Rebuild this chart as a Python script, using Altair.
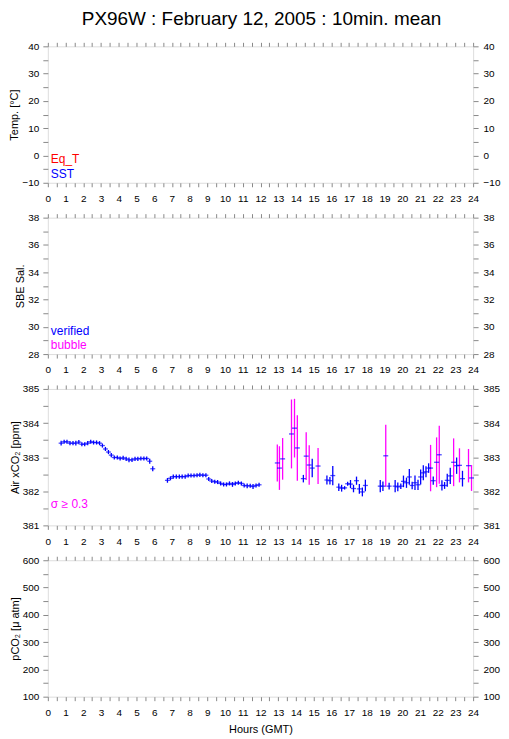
import altair as alt
import pandas as pd

FONT = "Liberation Sans"
TITLE = "PX96W : February 12, 2005 : 10min. mean"
W, H = 427, 137
BLUE, MAGENTA, RED = "#0000ff", "#ff00ff", "#ff0000"

x_ticks = [h * 0.5 for h in range(49)]

# ---- Air xCO2 10-min means (hour GMT, value ppm, sigma ppm) ----
hours = [
    0.75, 0.92, 1.08, 1.25, 1.42, 1.58, 1.75, 1.92, 2.08, 2.25, 2.42, 2.58,
    2.75, 2.92, 3.08, 3.25, 3.42, 3.58, 3.75, 3.92, 4.08, 4.25, 4.42, 4.58,
    4.75, 4.92, 5.08, 5.25, 5.42, 5.58, 5.75, 5.92,
    6.75, 6.92, 7.08, 7.25, 7.42, 7.58, 7.75, 7.92, 8.08, 8.25, 8.42, 8.58,
    8.75, 8.92, 9.08, 9.25, 9.42, 9.58, 9.75, 9.92, 10.08, 10.25, 10.42, 10.58,
    10.75, 10.92, 11.08, 11.25, 11.42, 11.58, 11.75, 11.92,
    12.95, 13.07, 13.25, 13.75, 13.92, 14.08, 14.42, 14.58, 14.75, 14.92,
    15.25, 15.75, 15.92, 16.08, 16.42, 16.58, 16.75, 16.92, 17.08, 17.25,
    17.42, 17.58, 17.75, 17.92,
    18.76, 18.91, 19.07, 19.26, 19.60, 19.75, 19.92, 20.07, 20.24, 20.40,
    20.56, 20.72, 20.89, 21.04, 21.19, 21.34, 21.49, 21.60, 21.75, 21.94,
    22.09, 22.24, 22.39, 22.54, 22.71, 22.90, 23.07, 23.23, 23.40, 23.74, 23.91,
]
xco2 = [
    383.41, 383.45, 383.45, 383.41, 383.41, 383.41, 383.44, 383.38, 383.38, 383.41,
    383.45, 383.43, 383.43, 383.41, 383.34, 383.24, 383.15, 383.06, 382.99, 382.99,
    382.96, 382.98, 382.95, 382.92, 382.92, 382.95, 382.95, 382.96, 382.96, 382.96,
    382.88, 382.66,
    382.32, 382.38, 382.43, 382.43, 382.43, 382.43, 382.43, 382.46, 382.46, 382.46,
    382.47, 382.48, 382.47, 382.47, 382.36, 382.30, 382.28, 382.27, 382.23, 382.20,
    382.20, 382.23, 382.20, 382.23, 382.25, 382.23, 382.17, 382.16, 382.16, 382.14,
    382.17, 382.19,
    382.83, 382.68, 382.95, 383.68, 383.85, 383.27, 382.37, 383.03, 382.77, 382.68,
    382.74, 382.33, 382.31, 382.46, 382.12, 382.09, 382.10, 382.22, 382.21, 382.08,
    382.31, 382.07, 381.98, 382.17,
    382.15, 382.15, 383.04, 382.15, 382.15, 382.13, 382.15, 382.29, 382.25, 382.42,
    382.17, 382.25, 382.19, 382.42, 382.54, 382.57, 382.68, 382.68, 382.31, 382.85,
    383.07, 382.17, 382.17, 382.32, 382.45, 382.85, 382.75, 382.76, 382.37, 382.75,
    382.39,
]
sigma = [
    0.07, 0.06, 0.06, 0.06, 0.06, 0.07, 0.06, 0.06, 0.06, 0.06, 0.06, 0.06,
    0.06, 0.06, 0.06, 0.06, 0.06, 0.06, 0.06, 0.06, 0.06, 0.06, 0.06, 0.07,
    0.06, 0.06, 0.06, 0.06, 0.06, 0.06, 0.07, 0.07,
    0.07, 0.06, 0.06, 0.06, 0.06, 0.06, 0.06, 0.06, 0.06, 0.06, 0.06, 0.06,
    0.06, 0.06, 0.06, 0.06, 0.06, 0.06, 0.06, 0.06, 0.06, 0.06, 0.07, 0.06,
    0.06, 0.06, 0.06, 0.07, 0.06, 0.07, 0.06, 0.06,
    0.54, 0.64, 0.61, 1.01, 0.86, 0.96, 0.11, 0.70, 0.58, 0.27,
    0.53, 0.13, 0.11, 0.28, 0.11, 0.10, 0.05, 0.06, 0.12, 0.11,
    0.12, 0.14, 0.13, 0.17,
    0.18, 0.14, 0.91, 0.10, 0.18, 0.13, 0.08, 0.17, 0.15, 0.23,
    0.11, 0.21, 0.15, 0.22, 0.22, 0.16, 0.14, 0.68, 0.12, 0.73,
    0.85, 0.15, 0.10, 0.19, 0.24, 0.70, 0.24, 0.50, 0.23, 0.49,
    0.38,
]

df = pd.DataFrame({"hour": hours, "xco2": xco2, "sigma": sigma})
df["lo"] = df["xco2"] - df["sigma"]
df["hi"] = df["xco2"] + df["sigma"]
df["flag"] = ["high" if s >= 0.3 else "low" for s in df["sigma"]]

xs = alt.Scale(domain=[0, 24], nice=False, zero=False)
XLAB = "datum.value % 1 == 0 ? format(datum.value, 'd') : ''"


def frame(ydomain, yticks, ymod, ytitle, xtitle=None):
    ys = alt.Scale(domain=ydomain, nice=False, zero=False)
    ylab = f"datum.value % {ymod} == 0 ? format(datum.value, 'd') : ''"
    dummy = pd.DataFrame({"hour": [0, 24], "v": ydomain})
    common = dict(grid=False, domain=False)
    left = alt.Chart(dummy).mark_point(opacity=0).encode(
        x=alt.X("hour:Q", scale=xs, title=xtitle,
                axis=alt.Axis(orient="bottom", values=x_ticks, labelExpr=XLAB, tickSize=4,
                              labelPadding=7, labelFlush=False, labelOverlap=False,
                              titlePadding=6, titleFontWeight="normal", **common)),
        y=alt.Y("v:Q", scale=ys, title=ytitle,
                axis=alt.Axis(orient="left", values=yticks, labelExpr=ylab, tickSize=5,
                              labelPadding=4, labelFlush=False, labelOverlap=False,
                              titlePadding=2, titleFontWeight="normal", **common)),
    )
    right = alt.Chart(dummy).mark_point(opacity=0).encode(
        x=alt.X("hour:Q", scale=xs, title=None,
                axis=alt.Axis(orient="top", values=x_ticks, labels=False, tickSize=4, **common)),
        y=alt.Y("v:Q", scale=ys, title=None,
                axis=alt.Axis(orient="right", values=yticks, labelExpr=ylab, tickSize=5,
                              labelPadding=5, labelFlush=False, labelOverlap=False, **common)),
    )
    return left, right, ys


def label(text, color, ypix):
    return alt.Chart(pd.DataFrame({"t": [text]})).mark_text(
        align="left", baseline="middle", fontSize=12, font=FONT, color=color
    ).encode(x=alt.value(3), y=alt.value(ypix), text="t:N")


def panel(layers):
    return alt.layer(*layers).resolve_axis(x="independent", y="independent").properties(
        width=W, height=H)


# Panel 1: temperature
l1, r1, _ = frame([-10, 40], [-10, -5, 0, 5, 10, 15, 20, 25, 30, 35, 40], 10, "Temp. [°C]")
p1 = panel([l1, r1, label("Eq_T", RED, 113), label("SST", BLUE, 128)])

# Panel 2: salinity
l2, r2, _ = frame([28, 38], [28, 29, 30, 31, 32, 33, 34, 35, 36, 37, 38], 2, "SBE Sal.")
p2 = panel([l2, r2, label("verified", BLUE, 114), label("bubble", MAGENTA, 128)])

# Panel 3: air xCO2
l3, r3, ys3 = frame([381, 385], [381, 381.5, 382, 382.5, 383, 383.5, 384, 384.5, 385], 1,
                    "Air xCO₂ [ppm]")
base3 = alt.Chart(df)
bars = base3.mark_rule(strokeWidth=1.3).encode(
    x=alt.X("hour:Q", scale=xs, axis=None),
    y=alt.Y("lo:Q", scale=ys3, axis=None),
    y2="hi:Q",
    color=alt.Color("flag:N", scale=alt.Scale(domain=["low", "high"], range=[BLUE, MAGENTA]),
                    legend=None),
)
dashes = base3.mark_tick(orient="horizontal", size=5, thickness=1.3, color=BLUE).encode(
    x=alt.X("hour:Q", scale=xs, axis=None),
    y=alt.Y("xco2:Q", scale=ys3, axis=None),
)
p3 = panel([l3, r3, bars, dashes, label("σ ≥ 0.3", MAGENTA, 116)])

# Panel 4: pCO2
l4, r4, _ = frame([100, 600], [100, 150, 200, 250, 300, 350, 400, 450, 500, 550, 600], 100,
                  "pCO₂ [μ atm]", xtitle="Hours (GMT)")
p4 = panel([l4, r4])

chart = alt.vconcat(p1, p2, p3, p4, spacing=35, bounds="flush").properties(
    title=alt.TitleParams(TITLE, fontSize=19, font=FONT, fontWeight="normal", anchor="middle",
                          offset=12, dx=7, color="black"),
    padding={"left": 0, "top": 0, "right": 0, "bottom": 0},
).configure_view(stroke="black", strokeWidth=1).configure_axis(
    labelFont=FONT, titleFont=FONT, labelFontSize=10, titleFontSize=12,
    titleFontWeight="normal", labelColor="black", titleColor="black", tickColor="black",
    tickWidth=1,
).configure(background="white")

chart.save("out.html", embed_options={"renderer": "svg", "actions": False})
